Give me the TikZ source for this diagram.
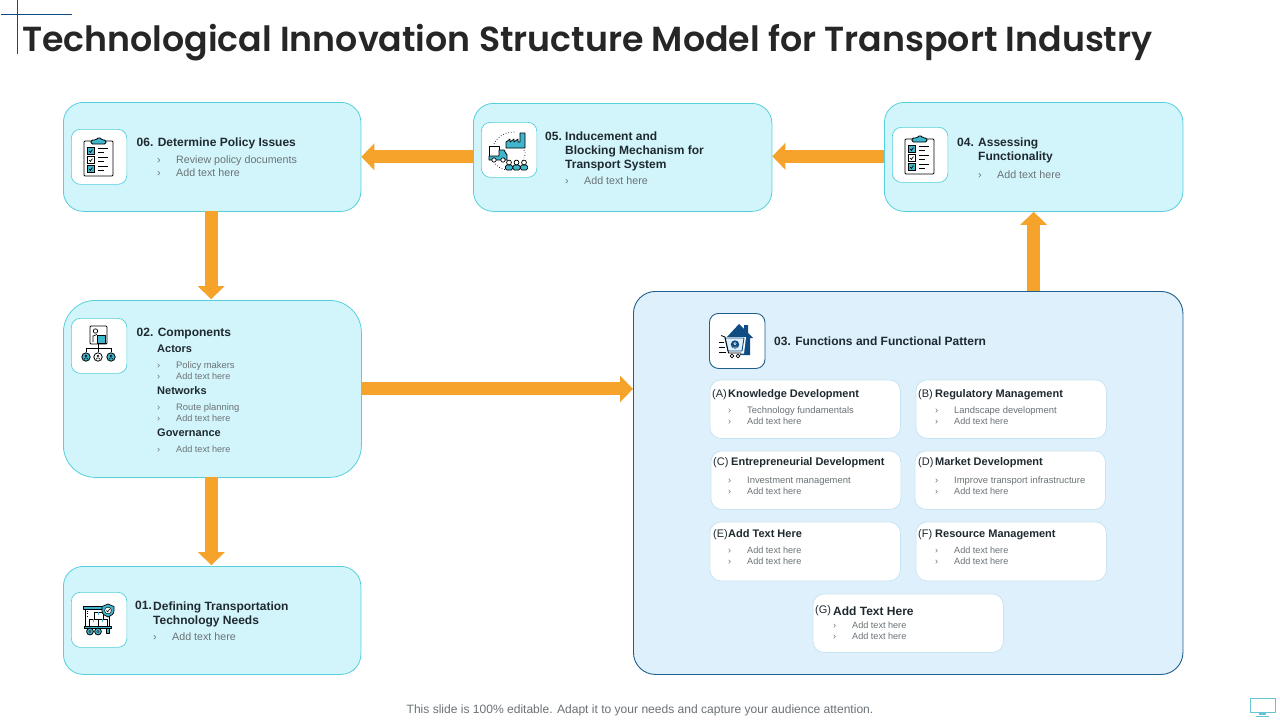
\documentclass[tikz,border=0pt]{standalone}
\usepackage{fontspec}
\setmainfont{Liberation Sans}
\newfontfamily\titlefont{Poppins SemiBold}
\usetikzlibrary{arrows.meta}
\definecolor{cardfill}{HTML}{D2F5FB}
\definecolor{cardline}{HTML}{55D0DC}
\definecolor{panelfill}{HTML}{DEF0FC}
\definecolor{panelline}{HTML}{1F5F8B}
\definecolor{subline}{HTML}{C8E4F2}
\definecolor{flow}{HTML}{F5A32B}
\definecolor{teal}{HTML}{3FB6CC}
\definecolor{navy}{HTML}{0F4C81}
\definecolor{ink}{HTML}{1F2A30}
\definecolor{titleink}{HTML}{262626}
\definecolor{soft}{HTML}{6A7276}
\tikzset{
  x=1pt,y=-1pt,
  card/.style={draw=cardline,fill=cardfill,line width=.8pt},
  panel/.style={draw=panelline,fill=panelfill,line width=.9pt},
  subcard/.style={draw=subline,fill=white,line width=.8pt},
  iconbox/.style={draw=cardline,fill=white,line width=.7pt},
  flowarrow/.style={draw=flow,line width=13pt,-{Triangle[width=26pt,length=13pt]}},
  hd/.style={anchor=base west,inner sep=0pt,text=ink,font=\fontsize{12}{14}\selectfont\bfseries},
  sh/.style={anchor=base west,inner sep=0pt,text=ink,font=\fontsize{11}{13}\selectfont\bfseries},
  lb/.style={anchor=base west,inner sep=0pt,text=soft,font=\fontsize{10.7}{12}\selectfont},
  sm/.style={anchor=base west,inner sep=0pt,text=soft,font=\fontsize{9.4}{11}\selectfont},
  sa/.style={anchor=base west,inner sep=0pt,text=soft,font=\fontsize{9.1}{11}\selectfont},
  tag/.style={anchor=base west,inner sep=0pt,text=ink,font=\fontsize{11}{13}\selectfont},
  ic/.style={draw=black,line width=.9pt,line join=round},
  ict/.style={draw=black,fill=teal,line width=.8pt,line join=round},
}
% box by corners: name, x1, y1, x2, y2, radius, style
\newcommand{\rbox}[7]{\node[#7,rounded corners=#6,minimum width=#4-#2,minimum height=#5-#3,inner sep=0pt,anchor=north west] (#1) at (#2-.5,#3-.5) {};}
% clipboard icon centred at (x,y)
\newcommand{\clipicon}[2]{%
\begin{scope}[shift={(#1,#2)}]
\draw[ic,fill=white,rounded corners=1pt] (-15,-16) rectangle (14,19);
\draw[ict,rounded corners=1.5pt] (-8,-13) -- (-8,-17) -- (-3,-17) -- (0,-20) -- (3,-17) -- (7,-17) -- (7,-13) -- cycle;
\foreach \yy/\cc in {-6/teal,3/white,12/teal}{
  \draw[draw=black,fill=\cc,line width=.8pt] (-11.5,\yy-3.2) rectangle (-5,\yy+3.2);
  \draw[black,line width=.7pt] (-9.8,\yy) -- (-8.6,\yy+1.4) -- (-6.6,\yy-1.4);
  \draw[black,line width=1pt] (-1,\yy-2.2) -- (9,\yy-2.2) (-1,\yy+1.2) -- (5,\yy+1.2);
}
\end{scope}}
\begin{document}
\begin{tikzpicture}
\useasboundingbox (0,0) rectangle (1280,720);
\fill[white] (0,0) rectangle (1280,720);

% corner mark
\coordinate (markA) at (1,14.5); \coordinate (markB) at (72,14.5);
\coordinate (markC) at (17.5,0); \coordinate (markD) at (17.5,54);
\draw[navy,line width=.7pt] (markA) -- (markB) (markC) -- (markD);

\node[anchor=base west,inner sep=0pt,text=titleink] (title) at (22,51) {\titlefont\fontsize{34.76}{40}\selectfont Technological Innovation Structure Model for Transport Industry};

% main boxes
\rbox{box06}{63.5}{102.5}{361}{211.5}{20pt}{card}
\rbox{box05}{473.5}{103.5}{772}{211.5}{20pt}{card}
\rbox{box04}{884.5}{102.5}{1183}{211.5}{20pt}{card}
\rbox{box02}{63.5}{300.5}{361.5}{477.5}{32pt}{card}
\rbox{box01}{63.5}{566.5}{361}{674.5}{20pt}{card}
\rbox{box03}{633.5}{291.5}{1183}{674.5}{22pt}{panel}

% connectors
\draw[flowarrow,transform canvas={yshift=.6pt}] (box05.west) -- (box05.west -| box06.east);
\draw[flowarrow,transform canvas={yshift=.6pt}] (box04.west) -- (box04.west -| box05.east);
\draw[flowarrow,transform canvas={xshift=-1pt,yshift=.8pt}] (box06.south) -- (box06.south |- box02.north);
\draw[flowarrow,transform canvas={xshift=-1pt,yshift=.8pt}] (box02.south) -- (box02.south |- box01.north);
\draw[flowarrow] (box02.east) -- (box02.east -| box03.west);
\draw[flowarrow] (box04.south |- box03.north) -- (box04.south);

% icon boxes
\rbox{ib06}{71.5}{129.5}{127}{184.5}{9pt}{iconbox}
\rbox{ib05}{481.5}{122.5}{537}{177.5}{9pt}{iconbox}
\rbox{ib04}{892.5}{127.5}{948}{182.5}{9pt}{iconbox}
\rbox{ib02}{71.5}{318.5}{127}{373.5}{9pt}{iconbox}
\rbox{ib01}{71.5}{592.5}{127}{647.5}{9pt}{iconbox}
\rbox{ib03}{709.5}{313.5}{765}{368.5}{9pt}{draw=panelline,fill=white,line width=.9pt}

% sub boxes
\rbox{subA}{710}{380}{900.5}{438.5}{11pt}{subcard}
\rbox{subB}{916}{380}{1106.5}{438.5}{11pt}{subcard}
\rbox{subC}{711}{451}{901}{509.5}{11pt}{subcard}
\rbox{subD}{915}{451}{1105.5}{509.5}{11pt}{subcard}
\rbox{subE}{710}{522}{900.5}{581}{11pt}{subcard}
\rbox{subF}{916}{522}{1106.5}{581}{11pt}{subcard}
\rbox{subG}{813}{594}{1003.5}{652.5}{11pt}{subcard}

% icons
\clipicon{99}{157}
\clipicon{920}{155}

% icon 05: truck, factory, people
\begin{scope}[shift={(509,150)}]
\draw[black,line width=.7pt,dotted] (-15,-6) .. controls (-11,-14) and (-4,-18) .. (6,-18);
\draw[black,line width=.7pt,dotted] (-14,14) .. controls (-11,17) and (-7,19) .. (-3,20);
\draw[black,line width=.7pt,dotted] (15,0) .. controls (17,4) and (16,6) .. (15,8);
\draw[ict,line width=.7pt] (-3,-2) -- (-3,-8) -- (1,-11) -- (1,-8) -- (5,-11) -- (5,-8) -- (9,-11) -- (9,-8) -- (11,-8) -- (11,-17) -- (16,-17) -- (16,-2) -- cycle;
\draw[ic,fill=white,line width=.8pt] (-20,-4) rectangle (-10,6);
\draw[ict] (-10,0) -- (-5,0) -- (-2,5) -- (-2,10) -- (-20,10) -- (-20,6) -- (-10,6) -- cycle;
\draw[black,fill=white,line width=.7pt] (-15,10) circle (2.2);
\draw[black,fill=white,line width=.7pt] (-6,10) circle (2.2);
\foreach \xx in {0,7.5,15}{
  \draw[ict,line width=.7pt,rounded corners=1.5pt] (\xx-3.6,20) -- (\xx-3.6,15) -- (\xx+3.6,15) -- (\xx+3.6,20) -- cycle;
  \draw[black,fill=white,line width=.7pt] (\xx,12.5) circle (2.4);
}
\end{scope}

% icon 02: org chart
\begin{scope}[shift={(99,345)}]
\draw[ic,fill=white,rounded corners=1pt] (-9,-19) rectangle (8,-1);
\draw[black,fill=white,line width=.7pt] (-3.5,-14) circle (2.2);
\draw[black,line width=.7pt] (-6,-3) -- (-6,-9) -- (-2,-10.5);
\draw[ict,line width=.7pt] (-2,-10) rectangle (6,-2);
\draw[black,line width=.7pt] (-1,-1) -- (-1,3) (-13,7) -- (-13,3) -- (12,3) -- (12,7) (-1,3) -- (-1,7);
\foreach \xx/\cc in {-13/teal,-1/white,12/teal}{
  \draw[black,fill=\cc,line width=.8pt] (\xx,12) circle (4.2);
  \draw[black,line width=.5pt] (\xx,11) circle (1.1) (\xx-2,14.5) -- (\xx-1,13) -- (\xx+1,13) -- (\xx+2,14.5);
}
\end{scope}

% icon 01: cargo loader
\begin{scope}[shift={(99,620)}]
\draw[black,line width=.7pt] (-14,-11) -- (-14,7) (10,-4) -- (10,7);
\draw[ict,line width=.6pt] (-16,-14) rectangle (8,-11);
\draw[black,line width=.4pt,dotted] (-12,-9) -- (-12,-2);
\draw[black,fill=white,line width=.7pt] (-5,-8) rectangle (4,-1);
\draw[teal,line width=1.1pt] (-.5,-8) -- (-.5,-5);
\draw[black,fill=white,line width=.7pt] (-10,-1) rectangle (-1,6);
\draw[black,fill=white,line width=.7pt] (-1,-1) rectangle (8,6);
\draw[teal,line width=1.1pt] (-5.5,-1) -- (-5.5,2) (3.5,-1) -- (3.5,2);
\draw[ict,line width=.6pt] (-15,6) rectangle (12,8.5);
\foreach \xx in {-9,-1}{\draw[ict,line width=.8pt] (\xx,11.5) circle (3.4); \draw[black,fill=white,line width=.5pt] (\xx,11.5) circle (1.1);}
\draw[ict,line width=.6pt] (7,8.5) -- (7,13) -- (10,13) -- (10,8.5);
\draw[ict,line width=.7pt] (9,-16) -- (15,-13.5) -- (15,-9) .. controls (15,-6) and (12,-4) .. (9,-3) .. controls (6,-4) and (3,-6) .. (3,-9) -- (3,-13.5) -- cycle;
\draw[black,fill=white,line width=.5pt] (9,-9.5) circle (3.4);
\draw[black,line width=.6pt] (7.4,-9.5) -- (8.7,-8.2) -- (10.9,-11);
\end{scope}

% icon 03: house with cart
\begin{scope}[shift={(737,341)}]
\fill[navy] (-10,-4) -- (2,-17) -- (7,-12) -- (7,-16) -- (11,-16) -- (11,-8) -- (16,-3) -- (13,-3) -- (13,14) -- (3,14) -- (3,5) -- (-10,5) -- cycle;
\fill[white] (-14,-4) -- (9,-4) -- (7,12.5) -- (-10,12.5) -- cycle;
\draw[navy,line width=.9pt,fill=panelfill] (-12,-3) -- (7,-3) -- (5,10) -- (-9,10) -- cycle;
\fill[navy] (-2,3.5) circle (4.2);
\draw[white,line width=.5pt] (-2,2.6) circle (1.2) (-4.4,6) -- (.4,6);
\draw[black,line width=.8pt] (-16,-5.5) -- (-12,-4) -- (-8.5,12) -- (4,12);
\draw[black,line width=.8pt] (-5,15) circle (1.9) (1,15) circle (1.9);
\draw[black,line width=.8pt] (-18,1) -- (-13,1) (-18,6) -- (-12,6) (-18,11) -- (-11,11);
\end{scope}

% ---- card 06
\node[hd] (t06) at (136.5,146.5) {06. Determine Policy Issues};
\node[lb] (b06a) at (157,163) {›}; \node[lb] (l06a) at (176,163) {Review policy documents};
\node[lb] (b06b) at (157,176) {›}; \node[lb] (l06b) at (176,176) {Add text here};

% ---- card 05
\node[hd] (t05a) at (545,140) {05.};
\node[hd] (t05b) at (565,140) {Inducement and};
\node[hd] (t05c) at (565,154) {Blocking Mechanism for};
\node[hd] (t05d) at (565,168) {Transport System};
\node[lb] (b05) at (565,184) {›}; \node[lb] (l05) at (584,184) {Add text here};

% ---- card 04
\node[hd] (t04a) at (957,146) {04.};
\node[hd] (t04b) at (978,146) {Assessing};
\node[hd] (t04c) at (978,160) {Functionality};
\node[lb] (b04) at (978,178) {›}; \node[lb] (l04) at (997,178) {Add text here};

% ---- card 02
\node[hd] (t02) at (136.5,336) {02. Components};
\node[sh] (s02a) at (157,352) {Actors};
\node[sm] (b02a) at (157,368) {›}; \node[sm] (l02a) at (176,368) {Policy makers};
\node[sa] (b02b) at (157,379) {›}; \node[sa] (l02b) at (176,379) {Add text here};
\node[sh] (s02b) at (157,394) {Networks};
\node[sm] (b02c) at (157,410) {›}; \node[sm] (l02c) at (176,410) {Route planning};
\node[sa] (b02d) at (157,421) {›}; \node[sa] (l02d) at (176,421) {Add text here};
\node[sh] (s02c) at (157,436) {Governance};
\node[sa] (b02e) at (157,452) {›}; \node[sa] (l02e) at (176,452) {Add text here};

% ---- card 01
\node[hd] (t01a) at (135,609) {01.};
\node[hd] (t01b) at (153,610) {Defining Transportation};
\node[hd] (t01c) at (153,624) {Technology Needs};
\node[lb] (b01) at (153,640) {›}; \node[lb] (l01) at (172,640) {Add text here};

% ---- panel 03
\node[hd] (t03) at (774,345.5) {03. Functions and Functional Pattern};

\node[tag] (tagA) at (712,397) {(A)}; \node[sh] (hA) at (728,397) {Knowledge Development};
\node[sm] (bA1) at (728,413.5) {›}; \node[sm] (lA1) at (747,413.5) {Technology fundamentals};
\node[sa] (bA2) at (728,424.5) {›}; \node[sa] (lA2) at (747,424.5) {Add text here};

\node[tag] (tagB) at (918,397) {(B)}; \node[sh] (hB) at (935,397) {Regulatory Management};
\node[sm] (bB1) at (935,413.5) {›}; \node[sm] (lB1) at (954,413.5) {Landscape development};
\node[sa] (bB2) at (935,424.5) {›}; \node[sa] (lB2) at (954,424.5) {Add text here};

\node[tag] (tagC) at (713,465) {(C)}; \node[sh] (hC) at (731,465) {Entrepreneurial Development};
\node[sm] (bC1) at (728,483.5) {›}; \node[sm] (lC1) at (747,483.5) {Investment management};
\node[sa] (bC2) at (728,494.5) {›}; \node[sa] (lC2) at (747,494.5) {Add text here};

\node[tag] (tagD) at (918,465) {(D)}; \node[sh] (hD) at (935,465) {Market Development};
\node[sm] (bD1) at (935,483.5) {›}; \node[sm] (lD1) at (954,483.5) {Improve transport infrastructure};
\node[sa] (bD2) at (935,494.5) {›}; \node[sa] (lD2) at (954,494.5) {Add text here};

\node[tag] (tagE) at (713,537) {(E)}; \node[sh] (hE) at (728,537) {Add Text Here};
\node[sa] (bE1) at (728,553.5) {›}; \node[sa] (lE1) at (747,553.5) {Add text here};
\node[sa] (bE2) at (728,564.5) {›}; \node[sa] (lE2) at (747,564.5) {Add text here};

\node[tag] (tagF) at (918,537) {(F)}; \node[sh] (hF) at (935,537) {Resource Management};
\node[sa] (bF1) at (935,553.5) {›}; \node[sa] (lF1) at (954,553.5) {Add text here};
\node[sa] (bF2) at (935,564.5) {›}; \node[sa] (lF2) at (954,564.5) {Add text here};

\node[tag] (tagG) at (815,613) {(G)}; \node[hd] (hG) at (833,615) {Add Text Here};
\node[sa] (bG1) at (833,628.5) {›}; \node[sa] (lG1) at (852,628.5) {Add text here};
\node[sa] (bG2) at (833,639.5) {›}; \node[sa] (lG2) at (852,639.5) {Add text here};

% footer
\node[anchor=base,inner sep=0pt,text=soft,font=\fontsize{12.05}{14}\selectfont] (foot) at (640,713) {This slide is 100\% editable. Adapt it to your needs and capture your audience attention.};

% monitor
\draw[teal!80,line width=1pt] (1250,698) rectangle (1275,712);
\fill[teal!80] (1259,712) rectangle (1266,715);
\draw[teal!80,line width=1pt] (1256,716) -- (1269,716);
\end{tikzpicture}
\end{document}
